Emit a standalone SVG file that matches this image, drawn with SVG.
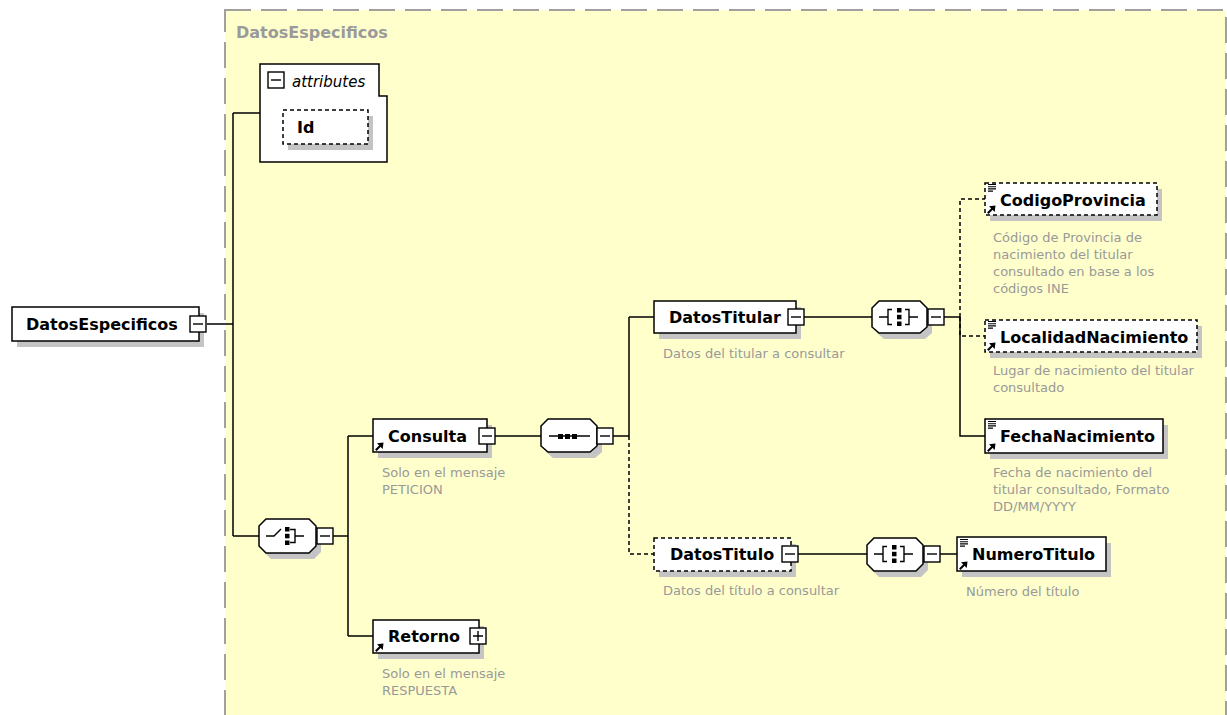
<svg xmlns="http://www.w3.org/2000/svg" width="1227" height="715" viewBox="0 0 1227 715">
<style>
.box{fill:#fff;stroke:#000;stroke-width:1.5}
.dbox{fill:#fff;stroke:#000;stroke-width:1.5;stroke-dasharray:4,3}
.sh{fill:#c4c4c4}
.name{font-family:"DejaVu Sans",sans-serif;font-weight:bold;font-size:16px;fill:#000}
.desc{font-family:"DejaVu Sans",sans-serif;font-size:13px;fill:#999}
.ln{fill:none;stroke:#000;stroke-width:1.5}
.dl{fill:none;stroke:#000;stroke-width:1.5;stroke-dasharray:4,3}
.btn{fill:#fff;stroke:#000;stroke-width:1.4}
.ico{fill:none;stroke:#000;stroke-width:1.4}
</style>
<defs>
<g id="minus"><rect class="btn" x="0" y="0" width="16" height="16"/><path class="ico" d="M3,8H13"/></g>
<g id="plus"><rect class="btn" x="0" y="0" width="16" height="16"/><path class="ico" d="M3,8H13M8,3V13"/></g>
<g id="ref"><path d="M0.8,9.2L5.5,4.5" stroke="#000" stroke-width="2"/><path d="M8.5,1.5L2,2.3L7.7,8Z" fill="#000"/></g>
<g id="lines"><path d="M0,0.5H8M0,2.7H8M0,4.9H8M0,7.1H5" stroke="#000" stroke-width="1.1"/></g>
</defs>

<rect x="0" y="0" width="1227" height="715" fill="#fff"/>

<g id="container">
<rect x="225" y="10" width="1001" height="720" fill="#ffffcc" stroke="#a0a0a0" stroke-width="2" stroke-dasharray="26,10"/>
<text x="236" y="38" font-family="DejaVu Sans, sans-serif" font-weight="bold" font-size="16" fill="#9a9a9a">DatosEspecificos</text>
</g>

<g id="connectors">
<path class="ln" d="M207,324H233M233,113V536M233,113H260M233,536H259"/>
<path class="ln" d="M333,536H348M348,436V636M348,436H373M348,636H373"/>
<path class="ln" d="M495,436H541M613,436H629M629,317V436M629,317H654"/>
<path class="dl" d="M629,436V554H654"/>
<path class="ln" d="M804,317H872M944,317H960M960,317V436H985"/>
<path class="dl" d="M960,317V199H985M960,317V336H985"/>
<path class="ln" d="M798,554H867M940,554H957"/>
</g>

<g id="node-root">
<rect class="sh" x="17" y="313" width="187" height="34"/>
<rect class="box" x="12" y="307" width="187" height="34"/>
<text class="name" x="26" y="330">DatosEspecificos</text>
<use href="#minus" x="190" y="316"/>
</g>

<g id="node-attributes">
<path class="box" d="M260,64H379V96H387V162H260Z"/>
<use href="#minus" x="268" y="72"/>
<text x="292" y="87" font-family="DejaVu Sans, sans-serif" font-style="italic" font-size="15" fill="#000">attributes</text>
<rect class="sh" x="288" y="116" width="85" height="34"/>
<rect class="dbox" x="283" y="110" width="85" height="34"/>
<text class="name" x="297" y="133">Id</text>
</g>

<g id="node-choice">
<polygon class="sh" points="271,525 314,525 321,532 321,552 314,559 271,559 264,552 264,532"/>
<polygon class="box" points="266,519 309,519 316,526 316,546 309,553 266,553 259,546 259,526"/>
<path class="ico" d="M266,536H274L281,529M290,529.5H295V542.5H290M295,536H304"/>
<rect x="285" y="527" width="4.5" height="4.5" fill="#000"/>
<rect x="285" y="533.8" width="4.5" height="4.5" fill="#000"/>
<rect x="285" y="540.5" width="4.5" height="4.5" fill="#000"/>
<use href="#minus" x="317" y="528"/>
</g>

<g id="node-consulta">
<rect class="sh" x="378" y="425" width="114" height="33"/>
<rect class="box" x="373" y="419" width="114" height="33"/>
<use href="#ref" x="375" y="441"/>
<text class="name" x="388" y="442">Consulta</text>
<use href="#minus" x="479" y="428"/>
<text class="desc" x="382" y="477">Solo en el mensaje</text>
<text class="desc" x="382" y="494">PETICION</text>
</g>

<g id="node-retorno">
<rect class="sh" x="378" y="626" width="106" height="33"/>
<rect class="box" x="373" y="620" width="106" height="33"/>
<use href="#ref" x="375" y="642"/>
<text class="name" x="388" y="642">Retorno</text>
<use href="#plus" x="470" y="628"/>
<text class="desc" x="382" y="678">Solo en el mensaje</text>
<text class="desc" x="382" y="695">RESPUESTA</text>
</g>

<g id="node-sequence">
<polygon class="sh" points="553,425 595,425 602,432 602,452 595,458 553,458 546,452 546,432"/>
<polygon class="box" points="548,419 590,419 597,426 597,446 590,452 548,452 541,446 541,426"/>
<path class="ico" d="M549,436H590"/>
<rect x="558" y="434" width="5" height="5" fill="#000"/>
<rect x="565" y="434" width="5" height="5" fill="#000"/>
<rect x="572" y="434" width="5" height="5" fill="#000"/>
<use href="#minus" x="597" y="428"/>
</g>

<g id="node-datostitular">
<rect class="sh" x="659" y="307" width="142" height="32"/>
<rect class="box" x="654" y="301" width="142" height="32"/>
<text class="name" x="669" y="323">DatosTitular</text>
<use href="#minus" x="788" y="309"/>
<text class="desc" x="663" y="358">Datos del titular a consultar</text>
</g>

<g id="node-all-titular">
<polygon class="sh" points="884,307 925,307 932,314 932,333 925,339 884,339 877,333 877,314"/>
<polygon class="box" points="879,301 920,301 927,308 927,327 920,333 879,333 872,327 872,308"/>
<path class="ico" d="M879,317H888M892,309.5H888V324.5H892M905,309.5H909V324.5H905M909,317H918"/>
<rect x="897" y="308" width="4.5" height="4.5" fill="#000"/>
<rect x="897" y="314.8" width="4.5" height="4.5" fill="#000"/>
<rect x="897" y="321.5" width="4.5" height="4.5" fill="#000"/>
<use href="#minus" x="928" y="309"/>
</g>

<g id="node-codigoprovincia">
<rect class="sh" x="990" y="189" width="172" height="32"/>
<rect class="dbox" x="985" y="183" width="172" height="32"/>
<use href="#lines" x="988" y="184"/>
<use href="#ref" x="987" y="204"/>
<text class="name" x="1000" y="206">CodigoProvincia</text>
<text class="desc" x="993" y="242">Código de Provincia de</text>
<text class="desc" x="993" y="259">nacimiento del titular</text>
<text class="desc" x="993" y="276">consultado en base a los</text>
<text class="desc" x="993" y="293">códigos INE</text>
</g>

<g id="node-localidad">
<rect class="sh" x="990" y="326" width="212" height="32"/>
<rect class="dbox" x="985" y="320" width="212" height="32"/>
<use href="#lines" x="988" y="321"/>
<use href="#ref" x="987" y="341"/>
<text class="name" x="1000" y="343">LocalidadNacimiento</text>
<text class="desc" x="993" y="375">Lugar de nacimiento del titular</text>
<text class="desc" x="993" y="392">consultado</text>
</g>

<g id="node-fecha">
<rect class="sh" x="990" y="425" width="178" height="34"/>
<rect class="box" x="985" y="419" width="178" height="34"/>
<use href="#lines" x="988" y="421"/>
<use href="#ref" x="987" y="442"/>
<text class="name" x="1000" y="442">FechaNacimiento</text>
<text class="desc" x="993" y="477">Fecha de nacimiento del</text>
<text class="desc" x="993" y="494">titular consultado, Formato</text>
<text class="desc" x="993" y="511">DD/MM/YYYY</text>
</g>

<g id="node-datostitulo">
<rect class="sh" x="659" y="544" width="137" height="33"/>
<rect class="dbox" x="654" y="538" width="137" height="33"/>
<text class="name" x="670" y="560">DatosTitulo</text>
<use href="#minus" x="782" y="546"/>
<text class="desc" x="663" y="595">Datos del título a consultar</text>
</g>

<g id="node-all-titulo">
<polygon class="sh" points="879,544 921,544 928,551 928,570 921,577 879,577 872,570 872,551"/>
<polygon class="box" points="874,538 916,538 923,545 923,564 916,571 874,571 867,564 867,545"/>
<path class="ico" d="M874,554H883M887,546.5H883V561.5H887M900,546.5H904V561.5H900M904,554H913"/>
<rect x="892" y="545" width="4.5" height="4.5" fill="#000"/>
<rect x="892" y="551.8" width="4.5" height="4.5" fill="#000"/>
<rect x="892" y="558.5" width="4.5" height="4.5" fill="#000"/>
<use href="#minus" x="924" y="546"/>
</g>

<g id="node-numerotitulo">
<rect class="sh" x="962" y="543" width="149" height="34"/>
<rect class="box" x="957" y="537" width="149" height="34"/>
<use href="#lines" x="960" y="539"/>
<use href="#ref" x="959" y="560"/>
<text class="name" x="972" y="560">NumeroTitulo</text>
<text class="desc" x="966" y="596">Número del título</text>
</g>
</svg>
